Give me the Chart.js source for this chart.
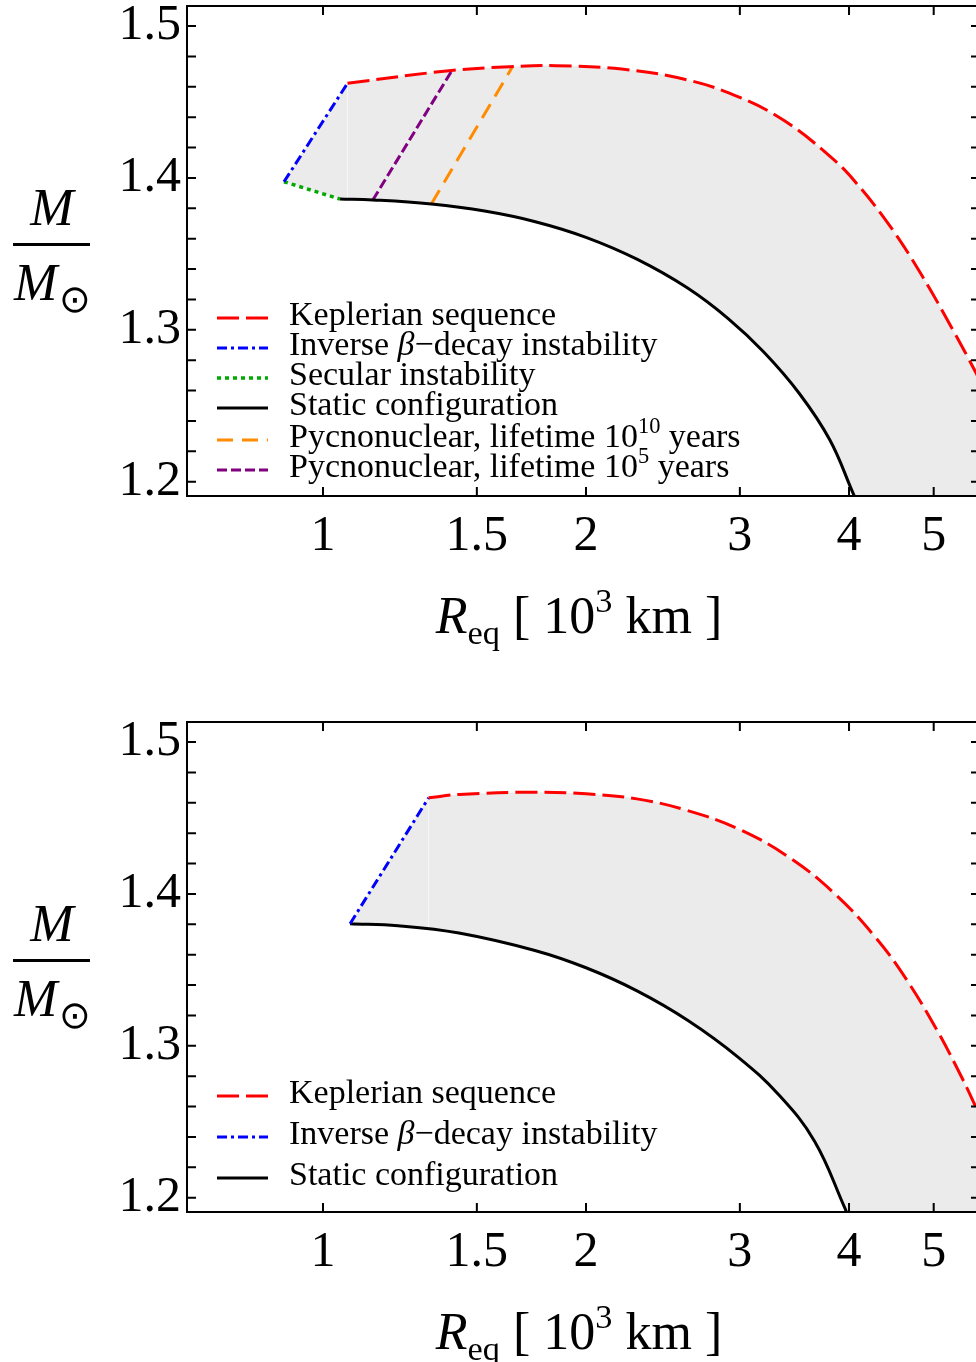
<!DOCTYPE html>
<html>
<head>
<meta charset="utf-8">
<script src="https://cdn.jsdelivr.net/npm/chart.js@4/dist/chart.umd.min.js"></script>
<style>
  html, body { margin: 0; padding: 0; background: #fff; overflow: hidden; }
  body { width: 976px; height: 1362px; position: relative; }
  canvas { position: absolute; left: 0; }
  #upper { top: 0; }
  #lower { top: 716px; }
</style>
</head>
<body>
<canvas id="upper" width="1000" height="660"></canvas>
<canvas id="lower" width="1000" height="646"></canvas>
<script>
// axis ticks (R_eq in 10^3 km, M in solar masses)
const radiusTicks = [1, 1.5, 2, 3, 4, 5];
const massTicks = [1.2, 1.3, 1.4, 1.5];
const massMinorTicks = [1.2, 1.22, 1.24, 1.26, 1.28, 1.3, 1.32, 1.34, 1.36, 1.38,
                        1.4, 1.42, 1.44, 1.46, 1.48, 1.5];

// upper panel
const keplerR = [1.0667, 1.394, 1.637, 1.846, 2.197, 2.614, 2.989, 3.371, 3.802, 4.063, 4.465, 4.836, 5.243, 5.589, 5.956];
const keplerM = [1.4623, 1.4706, 1.4732, 1.4739, 1.4717, 1.4645, 1.4534, 1.4378, 1.4144, 1.3977, 1.3676, 1.3367, 1.3014, 1.2717, 1.2401];
const staticR = [1.0458, 1.1404, 1.3304, 1.531, 1.750, 2.0, 2.287, 2.614, 2.909, 3.195, 3.509, 3.802, 4.039, 4.074];
const staticM = [1.3861, 1.3855, 1.3828, 1.3782, 1.3712, 1.3609, 1.3465, 1.3275, 1.3074, 1.2854, 1.2581, 1.2276, 1.1930, 1.1880];
const betaR = [0.9023, 1.0667];
const betaM = [1.3975, 1.4623];
const secularR = [0.9023, 1.0458];
const secularM = [1.3975, 1.3861];
const pycno10R = [1.3304, 1.648];
const pycno10M = [1.3828, 1.4733];
const pycno5R = [1.1404, 1.404];
const pycno5M = [1.3855, 1.4705];

// lower panel
const keplerR2 = [1.321, 1.432, 1.750, 2.0, 2.287, 2.614, 2.989, 3.416, 3.854, 4.289, 4.647, 5.035, 5.383, 5.589, 5.875];
const keplerM2 = [1.4633, 1.4655, 1.4670, 1.4659, 1.4626, 1.4549, 1.4428, 1.4241, 1.4000, 1.3714, 1.3442, 1.3111, 1.2793, 1.2595, 1.2320];
const staticR2 = [1.074, 1.2186, 1.4309, 1.7479, 2.0, 2.2878, 2.6166, 2.9853, 3.3258, 3.6526, 3.958, 3.990];
const staticM2 = [1.3804, 1.3791, 1.3743, 1.3628, 1.3514, 1.3362, 1.3167, 1.2926, 1.2676, 1.2372, 1.1930, 1.1879];
const betaR2 = [1.074, 1.321];
const betaM2 = [1.3804, 1.4633];

const SERIF = '"Liberation Serif", "DejaVu Serif", serif';
const BAND = '#ebebeb';

const pts = (rs, ms) => rs.map((r, i) => ({ x: r, y: ms[i] }));

function curve(rs, ms, color, dash, width, smooth) {
  return {
    data: pts(rs, ms), borderColor: color, borderDash: dash, borderWidth: width,
    tension: smooth ? 0.4 : 0, capBezierPoints: false,
    pointRadius: 0, fill: false, order: 0
  };
}

// filled to the bottom of the axis; white fills under the lower boundary cut the band out
function band(rs, ms, color, order, smooth) {
  return {
    data: pts(rs, ms), borderWidth: 0, borderColor: 'rgba(0,0,0,0)', backgroundColor: color,
    tension: smooth ? 0.4 : 0, capBezierPoints: false,
    pointRadius: 0, fill: 'start', order: order
  };
}

// draw text made of runs (italic / sub / sup), baseline at y
function runsWidth(ctx, runs, size) {
  let w = 0;
  for (const r of runs) {
    const s = (r.sup || r.sub) ? size * 0.66 : size;
    ctx.font = (r.italic ? 'italic ' : '') + s + 'px ' + SERIF;
    w += ctx.measureText(r.text).width;
  }
  return w;
}
function drawRuns(ctx, runs, x, y, size) {
  let cx = x;
  for (const r of runs) {
    const s = (r.sup || r.sub) ? size * 0.66 : size;
    ctx.font = (r.italic ? 'italic ' : '') + s + 'px ' + SERIF;
    const dy = r.sup ? -size * 0.4 : r.sub ? size * 0.22 : 0;
    ctx.fillText(r.text, cx, y + dy);
    cx += ctx.measureText(r.text).width;
  }
}

// frame with inward ticks on all four sides
const frameTicks = {
  id: 'frameTicks',
  afterDatasetsDraw(chart) {
    const { ctx, chartArea: a, scales: { x, y } } = chart;
    ctx.save();
    ctx.strokeStyle = '#000';
    ctx.lineWidth = 2;
    ctx.setLineDash([]);
    ctx.strokeRect(a.left, a.top, a.right - a.left, a.bottom - a.top);
    ctx.beginPath();
    for (const v of radiusTicks) {
      const px = x.getPixelForValue(v);
      ctx.moveTo(px, a.bottom); ctx.lineTo(px, a.bottom - 9);
      ctx.moveTo(px, a.top); ctx.lineTo(px, a.top + 9);
    }
    for (const v of massMinorTicks) {
      const py = y.getPixelForValue(v);
      ctx.moveTo(a.left, py); ctx.lineTo(a.left + 9, py);
      ctx.moveTo(a.right, py); ctx.lineTo(a.right - 9, py);
    }
    ctx.stroke();
    ctx.restore();
  }
};

// legend inside the plot, samples styled from the datasets
const insetLegend = {
  id: 'insetLegend',
  afterDraw(chart, args, opts) {
    const ctx = chart.ctx;
    ctx.save();
    for (const item of opts.items || []) {
      const ds = chart.data.datasets[item.dataset];
      ctx.strokeStyle = ds.borderColor;
      ctx.lineWidth = ds.borderWidth;
      ctx.setLineDash(ds.borderDash || []);
      ctx.beginPath();
      ctx.moveTo(217, item.y);
      ctx.lineTo(268, item.y);
      ctx.stroke();
      ctx.setLineDash([]);
      ctx.fillStyle = '#000';
      ctx.textBaseline = 'alphabetic';
      drawRuns(ctx, item.runs, 289, item.y + 7, 34);
    }
    ctx.restore();
  }
};

// axis titles: M / M_sun fraction and R_eq [10^3 km]
const axisTitles = {
  id: 'axisTitles',
  afterDraw(chart) {
    const ctx = chart.ctx;
    ctx.save();
    ctx.fillStyle = '#000';
    ctx.textBaseline = 'alphabetic';
    ctx.textAlign = 'left';
    ctx.font = 'italic 52px ' + SERIF;
    const mw = ctx.measureText('M').width;
    ctx.fillText('M', 52 - mw / 2, 225);
    ctx.fillRect(13, 243, 77, 3);
    ctx.fillText('M', 14, 300);
    ctx.font = '38px "DejaVu Sans"';
    ctx.fillText('\u2299', 59, 312);

    const xRuns = [
      { text: 'R', italic: true },
      { text: 'eq', sub: true },
      { text: ' [ 10' },
      { text: '3', sup: true },
      { text: ' km ]' }
    ];
    const w = runsWidth(ctx, xRuns, 52);
    drawRuns(ctx, xRuns, 579 - w / 2, 633, 52);
    ctx.restore();
  }
};

function makePanel(id, datasets, legendItems) {
  const canvas = document.getElementById(id);
  const H = canvas.height;
  return new Chart(canvas, {
    type: 'line',
    data: { datasets: datasets },
    options: {
      responsive: false,
      animation: false,
      devicePixelRatio: 1,
      layout: { padding: { left: 0, top: 6, right: 20, bottom: 0 } },
      plugins: {
        legend: { display: false },
        tooltip: { enabled: false },
        insetLegend: { items: legendItems }
      },
      scales: {
        x: {
          type: 'logarithmic',
          min: 0.6988,
          max: 5.649,
          bounds: 'data',
          grid: { display: false, drawTicks: false },
          border: { display: false },
          ticks: {
            color: '#000', font: { family: SERIF, size: 50 }, padding: 11,
            autoSkip: false, maxRotation: 0,
            callback: v => String(v)
          },
          afterBuildTicks: s => { s.ticks = radiusTicks.map(v => ({ value: v })); },
          afterFit: s => { s.height = H - 496; s.paddingLeft = 0; s.paddingRight = 0; }
        },
        y: {
          type: 'linear',
          min: 1.1906,
          max: 1.5132,
          bounds: 'data',
          grid: { display: false, drawTicks: false },
          border: { display: false },
          ticks: {
            color: '#000', font: { family: SERIF, size: 50 }, padding: 6,
            autoSkip: false,
            callback: v => v.toFixed(1)
          },
          afterBuildTicks: s => { s.ticks = massTicks.map(v => ({ value: v })); },
          afterFit: s => { s.width = 187; s.paddingTop = 0; s.paddingBottom = 0; }
        }
      }
    },
    plugins: [frameTicks, insetLegend, axisTitles]
  });
}

const keplerText = [{ text: 'Keplerian sequence' }];
const betaText = [{ text: 'Inverse ' }, { text: '\u03b2', italic: true }, { text: '\u2212decay instability' }];
const secularText = [{ text: 'Secular instability' }];
const staticText = [{ text: 'Static configuration' }];
const pycno10Text = [{ text: 'Pycnonuclear, lifetime 10' }, { text: '10', sup: true }, { text: ' years' }];
const pycno5Text = [{ text: 'Pycnonuclear, lifetime 10' }, { text: '5', sup: true }, { text: ' years' }];

// upper panel: datasets 0-3 are fills, 4+ are the drawn curves
makePanel('upper', [
  band(betaR, betaM, BAND, 3, false),
  band(keplerR, keplerM, BAND, 3, true),
  band(secularR, secularM, '#ffffff', 2, false),
  band(staticR, staticM, '#ffffff', 2, true),
  curve(keplerR, keplerM, '#ff0000', [22, 7], 3, true),
  curve(betaR, betaM, '#0000ff', [10, 4, 3, 4], 3, false),
  curve(secularR, secularM, '#00aa00', [4, 4], 3.5, false),
  curve(staticR, staticM, '#000000', [], 3, true),
  curve(pycno10R, pycno10M, '#ff8c00', [16, 9], 3, false),
  curve(pycno5R, pycno5M, '#800080', [10, 4], 3, false)
], [
  { dataset: 4, y: 318, runs: keplerText },
  { dataset: 5, y: 348, runs: betaText },
  { dataset: 6, y: 378, runs: secularText },
  { dataset: 7, y: 408, runs: staticText },
  { dataset: 8, y: 440, runs: pycno10Text },
  { dataset: 9, y: 470, runs: pycno5Text }
]);

// lower panel
makePanel('lower', [
  band(betaR2, betaM2, BAND, 3, false),
  band(keplerR2, keplerM2, BAND, 3, true),
  band(staticR2, staticM2, '#ffffff', 2, true),
  curve(keplerR2, keplerM2, '#ff0000', [22, 7], 3, true),
  curve(betaR2, betaM2, '#0000ff', [10, 4, 3, 4], 3, false),
  curve(staticR2, staticM2, '#000000', [], 3, true)
], [
  { dataset: 3, y: 380, runs: keplerText },
  { dataset: 4, y: 421, runs: betaText },
  { dataset: 5, y: 462, runs: staticText }
]);
</script>
</body>
</html>
